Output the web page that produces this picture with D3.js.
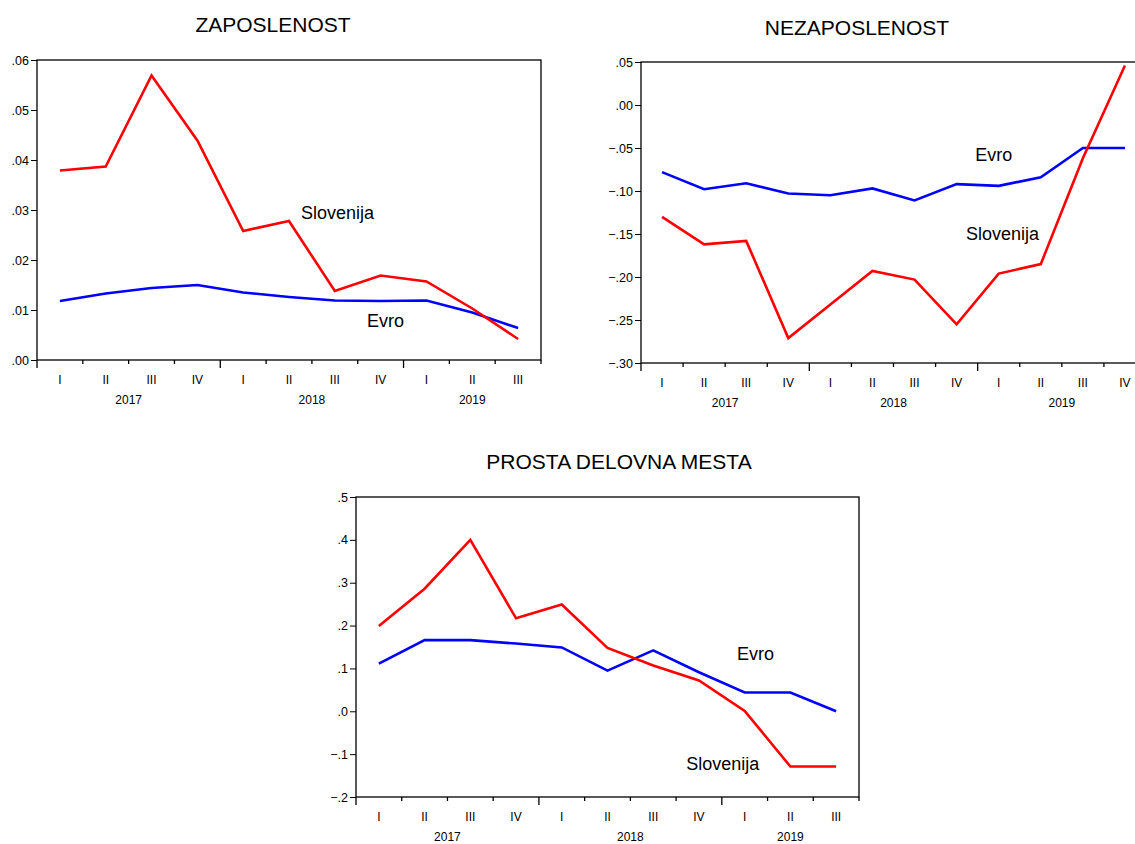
<!DOCTYPE html>
<html>
<head>
<meta charset="utf-8">
<script src="https://cdn.jsdelivr.net/npm/d3@7"></script>
<style>
  body { margin: 0; background: #fff; }
  svg { font-family: "Liberation Sans", Arial, sans-serif; }
</style>
</head>
<body>
<svg id="chart" width="1135" height="844"></svg>
<script>
// quarters 2017Q1 .. 2019Q4
const quarterLabels = ["I", "II", "III", "IV", "I", "II", "III", "IV", "I", "II", "III", "IV"];
const yearLabels = ["2017", "2018", "2019"];

// ZAPOSLENOST (2017Q1 - 2019Q3)
const zapSlovenija = [0.0379, 0.0387, 0.0569, 0.0439, 0.0258, 0.0278, 0.0138, 0.0169, 0.0157, 0.0103, 0.0042];
const zapEvro      = [0.0118, 0.0133, 0.0144, 0.0150, 0.0135, 0.0126, 0.0119, 0.0118, 0.0119, 0.0095, 0.0064];
const zapTicks = [0, 0.01, 0.02, 0.03, 0.04, 0.05, 0.06];

// NEZAPOSLENOST (2017Q1 - 2019Q4)
const nezSlovenija = [-0.130, -0.162, -0.158, -0.271, -0.232, -0.193, -0.203, -0.255, -0.196, -0.185, -0.062, 0.046];
const nezEvro      = [-0.078, -0.098, -0.091, -0.103, -0.105, -0.097, -0.111, -0.092, -0.094, -0.084, -0.050, -0.050];
const nezTicks = [-0.30, -0.25, -0.20, -0.15, -0.10, -0.05, 0.00, 0.05];

// PROSTA DELOVNA MESTA (2017Q1 - 2019Q3)
const pdmSlovenija = [0.199, 0.286, 0.400, 0.217, 0.249, 0.148, 0.107, 0.072, 0.001, -0.129, -0.129];
const pdmEvro      = [0.111, 0.166, 0.166, 0.158, 0.149, 0.095, 0.142, 0.091, 0.044, 0.044, 0.000];
const pdmTicks = [-0.2, -0.1, 0.0, 0.1, 0.2, 0.3, 0.4, 0.5];

const svg = d3.select("#chart");

const fmt = digits => v => d3.format("." + digits + "f")(v).replace("0.", ".");

function drawPanel(opt) {
  const n = opt.slo.length;
  const g = svg.append("g");
  const x = d3.scaleLinear().domain([0, n]).range([opt.x0, opt.x1]);
  const y = d3.scaleLinear().domain(opt.domain).range([opt.y1, opt.y0]);
  const idx = d3.range(n);

  // title
  g.append("text")
    .attr("x", opt.titleX).attr("y", opt.titleY)
    .attr("text-anchor", "middle")
    .style("font-size", "21px")
    .text(opt.title);

  // frame
  g.append("rect")
    .attr("x", opt.x0).attr("y", opt.y0)
    .attr("width", opt.x1 - opt.x0).attr("height", opt.y1 - opt.y0)
    .attr("fill", "none").attr("stroke", "#000").attr("stroke-width", 1.3);

  // Y axis
  const ya = g.append("g")
    .attr("transform", `translate(${opt.x0},0)`)
    .call(d3.axisLeft(y).tickValues(opt.ticks).tickFormat(fmt(opt.digits)).tickSize(6).tickPadding(2));
  ya.select(".domain").remove();
  ya.selectAll("text").style("font-size", "12.5px").attr("fill", "#000");
  ya.selectAll("line").attr("stroke", "#000");

  // X axis ticks at quarter boundaries
  const bounds = d3.range(n + 1);
  g.selectAll(".xtick").data(bounds).join("line")
    .attr("x1", d => x(d)).attr("x2", d => x(d))
    .attr("y1", opt.y1).attr("y2", d => opt.y1 + (d % 4 === 0 ? 8 : 4))
    .attr("stroke", "#000").attr("stroke-width", 1.3);

  g.selectAll(".qlab").data(idx).join("text")
    .attr("x", d => x(d + 0.5)).attr("y", opt.y1 + 24)
    .attr("text-anchor", "middle")
    .style("font-size", "12px")
    .text(d => quarterLabels[d]);

  g.selectAll(".ylab").data(yearLabels).join("text")
    .attr("x", (d, i) => x((i * 4 + Math.min(i * 4 + 4, n)) / 2))
    .attr("y", opt.y1 + 44)
    .attr("text-anchor", "middle")
    .style("font-size", "12px")
    .text(d => d);

  // lines
  const line = d3.line().x((d, i) => x(i + 0.5)).y(d => y(d));
  g.append("path").datum(opt.evro)
    .attr("d", line).attr("fill", "none")
    .attr("stroke", "#0000ff").attr("stroke-width", 2.6)
    .attr("stroke-linejoin", "miter");
  g.append("path").datum(opt.slo)
    .attr("d", line).attr("fill", "none")
    .attr("stroke", "#ff0000").attr("stroke-width", 2.6)
    .attr("stroke-linejoin", "miter");

  // series labels
  opt.labels.forEach(l => {
    g.append("text")
      .attr("x", x(l.pos)).attr("y", y(l.val))
      .attr("dy", "0.35em")
      .style("font-size", "18px")
      .text(l.text);
  });
}

drawPanel({
  id: 1, title: "ZAPOSLENOST", titleX: 273, titleY: 32,
  x0: 37, x1: 541, y0: 60, y1: 360,
  domain: [0, 0.06], ticks: zapTicks, digits: 2,
  slo: zapSlovenija, evro: zapEvro,
  labels: [{ text: "Slovenija", pos: 5.76, val: 0.0294 }, { text: "Evro", pos: 7.2, val: 0.0078 }]
});

drawPanel({
  id: 2, title: "NEZAPOSLENOST", titleX: 857, titleY: 35,
  x0: 641, x1: 1146, y0: 62, y1: 363,
  domain: [-0.30, 0.05], ticks: nezTicks, digits: 2,
  slo: nezSlovenija, evro: nezEvro,
  labels: [{ text: "Evro", pos: 7.94, val: -0.058 }, { text: "Slovenija", pos: 7.72, val: -0.150 }]
});

drawPanel({
  id: 3, title: "PROSTA DELOVNA MESTA", titleX: 619, titleY: 469,
  x0: 356, x1: 859, y0: 497, y1: 797,
  domain: [-0.2, 0.5], ticks: pdmTicks, digits: 1,
  slo: pdmSlovenija, evro: pdmEvro,
  labels: [{ text: "Evro", pos: 8.33, val: 0.134 }, { text: "Slovenija", pos: 7.22, val: -0.123 }]
});
</script>
</body>
</html>
